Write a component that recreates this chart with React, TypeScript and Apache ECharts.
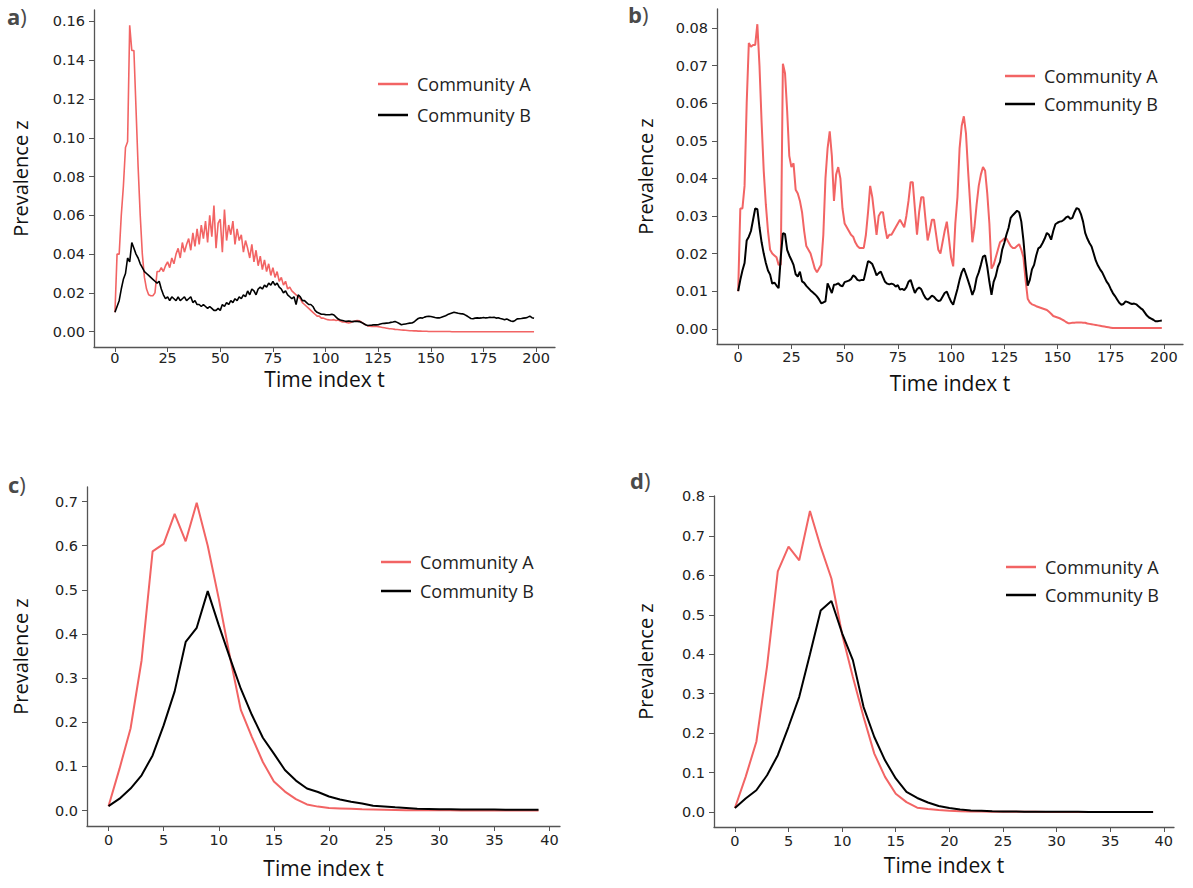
import React, { useEffect, useRef } from 'react';
import * as echarts from 'echarts';

// Panel a (200 time steps)
const aCommunityA = [
  0.010, 0.040, 0.040, 0.060, 0.075, 0.095, 0.098, 0.158, 0.145, 0.145,
  0.115, 0.085, 0.060, 0.040, 0.028, 0.022, 0.019, 0.0185, 0.0185, 0.020,
  0.031, 0.031, 0.033, 0.031, 0.034, 0.036, 0.033, 0.038, 0.035, 0.040,
  0.043, 0.038, 0.046, 0.041, 0.045, 0.048, 0.042, 0.051, 0.044, 0.053,
  0.045, 0.055, 0.048, 0.057, 0.046, 0.060, 0.049, 0.065, 0.043, 0.056,
  0.058, 0.041, 0.063, 0.047, 0.055, 0.050, 0.057, 0.045, 0.053, 0.047,
  0.050, 0.041, 0.047, 0.043, 0.038, 0.045, 0.036, 0.042, 0.034, 0.039,
  0.032, 0.037, 0.031, 0.035, 0.029, 0.033, 0.028, 0.031, 0.026, 0.028,
  0.024, 0.026, 0.022, 0.023, 0.021, 0.020, 0.019, 0.018, 0.017, 0.015,
  0.014, 0.013, 0.012, 0.011, 0.010, 0.009, 0.008, 0.008, 0.007, 0.007,
  0.0065, 0.0062, 0.006, 0.006, 0.0062, 0.0058, 0.006, 0.0055, 0.005, 0.005,
  0.0048, 0.0045, 0.0048, 0.0052, 0.0055, 0.0058, 0.0056, 0.005, 0.0042, 0.0035,
  0.003, 0.0028, 0.0027, 0.0027, 0.0028, 0.0026, 0.0024, 0.0022, 0.002, 0.0018,
  0.0016, 0.0015, 0.0014, 0.0012, 0.0011, 0.001, 0.0009, 0.0008, 0.0007, 0.0006,
  0.0005, 0.0005, 0.0004, 0.0004, 0.0003, 0.0003, 0.0002, 0.0002, 0.0002, 0.0001,
  0.0001, 0.0001, 0.0001, 0.0001, 0.0001, 0.0001, 0.0001, 0.0001, 0.0001, 0.0001,
  0, 0, 0, 0, 0, 0, 0, 0, 0, 0,
  0, 0, 0, 0, 0, 0, 0, 0, 0, 0,
  0, 0, 0, 0, 0, 0, 0, 0, 0, 0,
  0, 0, 0, 0, 0, 0, 0, 0, 0, 0,
];
const aCommunityB = [
  0.010, 0.013, 0.016, 0.022, 0.027, 0.030, 0.038, 0.036, 0.046, 0.043,
  0.040, 0.038, 0.035, 0.033, 0.031, 0.030, 0.029, 0.028, 0.027, 0.026,
  0.025, 0.026, 0.022, 0.019, 0.017, 0.018, 0.016, 0.018, 0.017, 0.016,
  0.018, 0.016, 0.017, 0.018, 0.016, 0.017, 0.018, 0.015, 0.016, 0.014,
  0.014, 0.013, 0.014, 0.013, 0.012, 0.013, 0.012, 0.011, 0.011, 0.012,
  0.011, 0.014, 0.013, 0.015, 0.014, 0.016, 0.015, 0.017, 0.016, 0.018,
  0.017, 0.019, 0.018, 0.021, 0.019, 0.022, 0.021, 0.019, 0.022, 0.023,
  0.022, 0.024, 0.023, 0.025, 0.024, 0.026, 0.024, 0.025, 0.023, 0.022,
  0.020, 0.021, 0.019, 0.018, 0.017, 0.018, 0.014, 0.019, 0.018, 0.016,
  0.016, 0.015, 0.014, 0.014, 0.013, 0.011, 0.010, 0.0095, 0.009, 0.009,
  0.0088, 0.0087, 0.0087, 0.009, 0.0086, 0.0075, 0.0065, 0.006, 0.0058, 0.0055,
  0.0053, 0.0055, 0.0053, 0.0052, 0.0054, 0.0053, 0.0052, 0.0048, 0.0042, 0.0036,
  0.0032, 0.0033, 0.0034, 0.0036, 0.0035, 0.0036, 0.004, 0.0042, 0.0043, 0.0044,
  0.0045, 0.0048, 0.005, 0.0053, 0.0048, 0.0042, 0.0036, 0.0038, 0.004, 0.0042,
  0.0044, 0.0045, 0.005, 0.006, 0.0068, 0.0072, 0.007, 0.0075, 0.0078, 0.008,
  0.0078, 0.0076, 0.0073, 0.0071, 0.0071, 0.0074, 0.0078, 0.0082, 0.0088, 0.0092,
  0.0096, 0.010, 0.0098, 0.0095, 0.0093, 0.0092, 0.0088, 0.0082, 0.0075, 0.0068,
  0.0067, 0.0070, 0.0071, 0.0070, 0.0071, 0.0073, 0.0071, 0.0072, 0.0074, 0.0073,
  0.0074, 0.0070, 0.0072, 0.0068, 0.0065, 0.0062, 0.0066, 0.0060, 0.0055, 0.0053,
  0.0058, 0.0066, 0.0067, 0.0068, 0.0070, 0.0071, 0.0075, 0.0080, 0.0072, 0.0069,
];

// Panel b (200 time steps)
const bCommunityA = [
  0.010, 0.032, 0.032, 0.038, 0.060, 0.076, 0.075, 0.0755, 0.0755, 0.081,
  0.070, 0.055, 0.042, 0.033, 0.026, 0.021, 0.020, 0.0195, 0.019, 0.017,
  0.017, 0.0705, 0.068, 0.058, 0.046, 0.043, 0.044, 0.037, 0.036, 0.034,
  0.031, 0.026, 0.022, 0.021, 0.020, 0.018, 0.016, 0.015, 0.016, 0.017,
  0.025, 0.040, 0.048, 0.0525, 0.046, 0.034, 0.041, 0.043, 0.040, 0.032,
  0.028, 0.027, 0.026, 0.025, 0.0245, 0.023, 0.022, 0.0215, 0.0215, 0.0215,
  0.025, 0.031, 0.038, 0.035, 0.030, 0.025, 0.030, 0.031, 0.031, 0.027,
  0.024, 0.025, 0.025, 0.026, 0.027, 0.028, 0.029, 0.028, 0.027, 0.030,
  0.034, 0.039, 0.039, 0.032, 0.025, 0.031, 0.035, 0.035, 0.029, 0.0235,
  0.026, 0.029, 0.029, 0.025, 0.021, 0.020, 0.023, 0.026, 0.0285, 0.024,
  0.019, 0.0166, 0.028, 0.035, 0.048, 0.054, 0.0565, 0.052, 0.042, 0.033,
  0.023, 0.027, 0.033, 0.038, 0.041, 0.043, 0.042, 0.036, 0.028, 0.016,
  0.017, 0.019, 0.021, 0.023, 0.0235, 0.024, 0.024, 0.023, 0.022, 0.0215,
  0.0215, 0.022, 0.0225, 0.021, 0.019, 0.013, 0.008, 0.007, 0.0065, 0.0063,
  0.006, 0.0058, 0.0056, 0.0054, 0.0052, 0.005, 0.0045, 0.004, 0.0034, 0.0032,
  0.003, 0.0028, 0.0025, 0.0022, 0.0018, 0.0015, 0.0015, 0.0016, 0.0016, 0.0017,
  0.0017, 0.0017, 0.0016, 0.0016, 0.0014, 0.0013, 0.0012, 0.0011, 0.001, 0.0009,
  0.0008, 0.0007, 0.0006, 0.0005, 0.0004, 0.0003, 0.0002, 0.0002, 0.0002, 0.0002,
  0.0002, 0.0002, 0.0002, 0.0002, 0.0002, 0.0002, 0.0002, 0.0002, 0.0002, 0.0002,
  0.0002, 0.0002, 0.0002, 0.0002, 0.0002, 0.0002, 0.0002, 0.0002, 0.0002, 0.0002,
];
const bCommunityB = [
  0.010, 0.013, 0.0155, 0.0175, 0.0235, 0.0245, 0.026, 0.029, 0.032, 0.0318,
  0.027, 0.023, 0.020, 0.0175, 0.0155, 0.0144, 0.012, 0.0123, 0.0115, 0.0108,
  0.019, 0.0254, 0.0252, 0.021, 0.0195, 0.0183, 0.017, 0.0145, 0.0139, 0.0152,
  0.0126, 0.0122, 0.0114, 0.0108, 0.0102, 0.0097, 0.0092, 0.0086, 0.0078, 0.0068,
  0.007, 0.0073, 0.0121, 0.0108, 0.0095, 0.0117, 0.0118, 0.0121, 0.0115, 0.0113,
  0.0124, 0.0126, 0.0128, 0.0132, 0.0142, 0.0138, 0.013, 0.0128, 0.013, 0.013,
  0.0155, 0.018, 0.0177, 0.0172, 0.0158, 0.0142, 0.0148, 0.0152, 0.0138, 0.0125,
  0.012, 0.0118, 0.012, 0.0118, 0.0112, 0.0116, 0.0104, 0.0106, 0.0103, 0.011,
  0.0125, 0.013, 0.0112, 0.0095, 0.0105, 0.011, 0.0105, 0.0092, 0.0082, 0.0077,
  0.0082, 0.0088, 0.0085, 0.0078, 0.0074, 0.0075, 0.0085, 0.0095, 0.0099, 0.0085,
  0.0072, 0.0064, 0.0085, 0.0106, 0.013, 0.015, 0.0161, 0.0145, 0.0128, 0.011,
  0.009, 0.0105, 0.0135, 0.015, 0.017, 0.0192, 0.0195, 0.0165, 0.0125, 0.009,
  0.0125, 0.014, 0.0165, 0.0178, 0.021, 0.0228, 0.025, 0.0268, 0.0295, 0.0302,
  0.0308, 0.0314, 0.031, 0.0285, 0.0235, 0.017, 0.0115, 0.013, 0.0158, 0.017,
  0.0195, 0.0214, 0.0218, 0.0228, 0.024, 0.0255, 0.025, 0.0237, 0.026, 0.0278,
  0.0282, 0.0285, 0.0286, 0.029, 0.0296, 0.0299, 0.0292, 0.0295, 0.031, 0.0321,
  0.0318, 0.0305, 0.0285, 0.0255, 0.024, 0.0228, 0.0219, 0.020, 0.0181, 0.0168,
  0.0158, 0.015, 0.0138, 0.0126, 0.0118, 0.0106, 0.0095, 0.0087, 0.0078, 0.0069,
  0.0064, 0.0066, 0.0073, 0.0071, 0.0068, 0.0066, 0.0067, 0.0065, 0.006, 0.0055,
  0.0051, 0.0043, 0.0035, 0.003, 0.0027, 0.0024, 0.002, 0.002, 0.0021, 0.0022,
];

// Panel c (40 time steps)
const cCommunityA = [
  0.010, 0.095, 0.186, 0.340, 0.587, 0.604, 0.672, 0.610, 0.697, 0.600,
  0.480, 0.350, 0.228, 0.167, 0.110, 0.066, 0.043, 0.026, 0.014, 0.009,
  0.006, 0.005, 0.004, 0.003, 0.0025, 0.002, 0.0015, 0.001, 0.001, 0.0008,
  0.0006, 0.0005, 0.0004, 0.0003, 0.0002, 0.0002, 0.0001, 0.0001, 0.0001, 0.0001,
];
const cCommunityB = [
  0.010, 0.027, 0.050, 0.080, 0.125, 0.193, 0.270, 0.382, 0.414, 0.497,
  0.420, 0.347, 0.276, 0.217, 0.165, 0.129, 0.092, 0.068, 0.050, 0.042,
  0.032, 0.025, 0.020, 0.016, 0.011, 0.0095, 0.0075, 0.006, 0.004, 0.0035,
  0.003, 0.0028, 0.0026, 0.0024, 0.0023, 0.0022, 0.0021, 0.002, 0.002, 0.002,
];

// Panel d (40 time steps)
const dCommunityA = [
  0.010, 0.089, 0.178, 0.370, 0.610, 0.673, 0.638, 0.763, 0.672, 0.592,
  0.450, 0.342, 0.241, 0.148, 0.089, 0.046, 0.025, 0.011, 0.0076, 0.005,
  0.003, 0.002, 0.0015, 0.001, 0.0008, 0.0006, 0.0005, 0.0004, 0.0003, 0.0002,
  0.0002, 0.0001, 0.0001, 0.0001, 0.0001, 0.0001, 0.0001, 0.0001, 0.0001, 0.0001,
];
const dCommunityB = [
  0.010, 0.034, 0.055, 0.093, 0.144, 0.216, 0.292, 0.400, 0.511, 0.535,
  0.453, 0.385, 0.266, 0.190, 0.131, 0.085, 0.051, 0.0355, 0.024, 0.015,
  0.010, 0.006, 0.004, 0.003, 0.002, 0.0015, 0.001, 0.0008, 0.0006, 0.0005,
  0.0004, 0.0003, 0.0003, 0.0002, 0.0002, 0.0002, 0.0001, 0.0001, 0.0001, 0.0001,
];

const xTicksLong = [0, 25, 50, 75, 100, 125, 150, 175, 200];
const xTicksShort = [0, 5, 10, 15, 20, 25, 30, 35, 40];
const yTicksA = [0, 0.02, 0.04, 0.06, 0.08, 0.1, 0.12, 0.14, 0.16];
const yTicksB = [0, 0.01, 0.02, 0.03, 0.04, 0.05, 0.06, 0.07, 0.08];
const yTicksC = [0, 0.1, 0.2, 0.3, 0.4, 0.5, 0.6, 0.7];
const yTicksD = [0, 0.1, 0.2, 0.3, 0.4, 0.5, 0.6, 0.7, 0.8];

const seriesNames = ['Community A', 'Community B'];
const panelLabels = ['a', 'b', 'c', 'd'];
const xAxisTitle = 'Time index t';
const yAxisTitle = 'Prevalence z';

const RED = '#f26464';
const BLACK = '#000000';
const AXIS = '#555555';

export default function App() {
  const ref = useRef<HTMLDivElement>(null);

  useEffect(() => {
    if (!ref.current) return;
    const chart = echarts.init(ref.current, undefined, { renderer: 'svg' });

    const panels = [
      { grid: { left: 94, top: 10, width: 461, height: 337 }, xr: [-9.95, 208.95], xt: xTicksLong, yr: [-0.0079, 0.1659], yt: yTicksA, dec: 2, xGap: 21, xMargin: 3, yGap: 64, A: aCommunityA, B: aCommunityB, lw: 1.6, legend: { left: 378, top: 75, gap: 13 }, label: { x: 7, y: 5 } },
      { grid: { left: 717, top: 9, width: 466, height: 335 }, xr: [-9.95, 208.95], xt: xTicksLong, yr: [-0.00405, 0.08505], yt: yTicksB, dec: 2, xGap: 28.5, xMargin: 5, yGap: 62, A: bCommunityA, B: bCommunityB, lw: 2, legend: { left: 1005, top: 67, gap: 10 }, label: { x: 628, y: 3 } },
      { grid: { left: 87, top: 487, width: 473, height: 339 }, xr: [-1.95, 40.95], xt: xTicksShort, yr: [-0.0349, 0.7329], yt: yTicksC, dec: 1, xGap: 31.5, xMargin: 6, yGap: 57, A: cCommunityA, B: cCommunityB, lw: 2, legend: { left: 381, top: 553, gap: 11 }, label: { x: 8, y: 473 } },
      { grid: { left: 714, top: 496, width: 460, height: 331 }, xr: [-1.95, 40.95], xt: xTicksShort, yr: [-0.0381, 0.8011], yt: yTicksD, dec: 1, xGap: 27.5, xMargin: 6, yGap: 59, A: dCommunityA, B: dCommunityB, lw: 2, legend: { left: 1006, top: 558, gap: 10 }, label: { x: 630, y: 469 } },
    ];

    const tickLabel = { color: '#222', fontSize: 14.5, fontFamily: 'DejaVu Sans' };
    const xNameStyle = { color: '#111', fontSize: 21, fontFamily: 'Open Sans' };
    const yNameStyle = { color: '#111', fontSize: 20, fontFamily: 'Open Sans' };

    const option: any = {
      animation: false,
      backgroundColor: '#ffffff',
      grid: panels.map((p) => ({ ...p.grid, containLabel: false })),
      xAxis: panels.map((p, i) => ({
        gridIndex: i,
        type: 'value',
        min: p.xr[0],
        max: p.xr[1],
        name: xAxisTitle,
        nameLocation: 'middle',
        nameGap: p.xGap,
        nameTextStyle: xNameStyle,
        axisLine: { show: true, onZero: false, lineStyle: { color: AXIS, width: 1.3 } },
        axisTick: { show: true, customValues: p.xt, length: 5, lineStyle: { color: AXIS, width: 1 } },
        axisLabel: { ...tickLabel, customValues: p.xt, margin: p.xMargin, formatter: (v: number) => String(Math.round(v)) },
        splitLine: { show: false },
      })),
      yAxis: panels.map((p, i) => ({
        gridIndex: i,
        type: 'value',
        min: p.yr[0],
        max: p.yr[1],
        name: yAxisTitle,
        nameLocation: 'middle',
        nameGap: p.yGap,
        nameTextStyle: yNameStyle,
        axisLine: { show: true, onZero: false, lineStyle: { color: AXIS, width: 1.3 } },
        axisTick: { show: true, customValues: p.yt, length: 5, lineStyle: { color: AXIS, width: 1 } },
        axisLabel: { ...tickLabel, customValues: p.yt, margin: 9, formatter: (v: number) => v.toFixed(p.dec) },
        splitLine: { show: false },
      })),
      legend: panels.map((p) => ({
        data: seriesNames,
        orient: 'vertical',
        left: p.legend.left,
        top: p.legend.top,
        padding: 0,
        icon: 'rect',
        itemWidth: 30,
        itemHeight: 2.5,
        itemGap: p.legend.gap,
        selectedMode: false,
        textStyle: { color: '#222', fontSize: 18, fontFamily: 'Open Sans', lineHeight: 18, padding: [0, 0, 0, 4] },
      })),
      series: panels.flatMap((p, i) => [
        {
          name: seriesNames[0],
          type: 'line',
          xAxisIndex: i,
          yAxisIndex: i,
          symbol: 'none',
          data: p.A.map((v, t) => [t, v]),
          lineStyle: { color: RED, width: p.lw },
          itemStyle: { color: RED },
          z: 2,
        },
        {
          name: seriesNames[1],
          type: 'line',
          xAxisIndex: i,
          yAxisIndex: i,
          symbol: 'none',
          data: p.B.map((v, t) => [t, v]),
          lineStyle: { color: BLACK, width: p.lw },
          itemStyle: { color: BLACK },
          z: 3,
        },
      ]),
      graphic: panels.map((p, i) => ({
        type: 'text',
        left: p.label.x,
        top: p.label.y,
        style: {
          text: `{b|${panelLabels[i]}}{r|)}`,
          rich: {
            b: { fontSize: 22, fontWeight: 'bold', fill: '#4a4a4a', fontFamily: 'Open Sans' },
            r: { fontSize: 22, fontWeight: 'normal', fill: '#4a4a4a', fontFamily: 'Open Sans' },
          },
        },
      })),
    };

    chart.setOption(option);
    return () => chart.dispose();
  }, []);

  return <div ref={ref} style={{ position: 'fixed', left: 0, top: 0, width: 1193, height: 888 }} />;
}
